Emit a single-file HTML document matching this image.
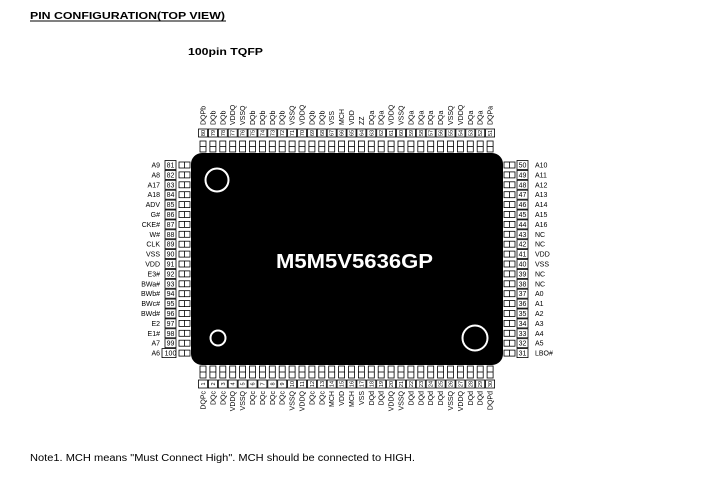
<!DOCTYPE html>
<html><head><meta charset="utf-8"><style>
body{margin:0;background:#fff;width:707px;height:476px;overflow:hidden;font-family:"Liberation Sans",Arial,sans-serif}
</style></head><body>
<svg id="s" width="707" height="476" xmlns="http://www.w3.org/2000/svg" font-family="Liberation Sans, Arial, sans-serif">
<text x="30" y="19" font-size="10.5" font-weight="bold" textLength="195" lengthAdjust="spacingAndGlyphs">PIN CONFIGURATION(TOP VIEW)</text>
<line x1="30" y1="21" x2="226" y2="21" stroke="#000" stroke-width="1"/>
<text x="188" y="55" font-size="10.5" font-weight="bold" textLength="75" lengthAdjust="spacingAndGlyphs">100pin TQFP</text>
<rect x="191" y="153" width="312" height="212" rx="11" fill="#000"/>
<circle cx="217" cy="180" r="11.5" fill="none" stroke="#fff" stroke-width="2"/>
<circle cx="218" cy="338" r="7.5" fill="none" stroke="#fff" stroke-width="2"/>
<circle cx="475" cy="338" r="12.5" fill="none" stroke="#fff" stroke-width="2"/>
<text x="276" y="268" font-size="20" font-weight="bold" fill="#fff" textLength="157" lengthAdjust="spacingAndGlyphs">M5M5V5636GP</text>
<text x="30" y="461" font-size="10" textLength="385" lengthAdjust="spacingAndGlyphs">Note1. MCH means "Must Connect High". MCH should be connected to HIGH.</text>
<g id="g"></g>
</svg>
<script>
var g=document.getElementById('g'),h='';
var top_=["DQPb","DQb","DQb","VDDQ","VSSQ","DQb","DQb","DQb","DQb","VSSQ","VDDQ","DQb","DQb","VSS","MCH","VDD","ZZ","DQa","DQa","VDDQ","VSSQ","DQa","DQa","DQa","DQa","VSSQ","VDDQ","DQa","DQa","DQPa"];
var bot=["DQPc","DQc","DQc","VDDQ","VSSQ","DQc","DQc","DQc","DQc","VSSQ","VDDQ","DQc","DQc","MCH","VDD","MCH","VSS","DQd","DQd","VDDQ","VSSQ","DQd","DQd","DQd","DQd","VSSQ","VDDQ","DQd","DQd","DQPd"];
var left=["A9","A8","A17","A18","ADV","G#","CKE#","W#","CLK","VSS","VDD","E3#","BWa#","BWb#","BWc#","BWd#","E2","E1#","A7","A6"];
var right=["A10","A11","A12","A13","A14","A15","A16","NC","NC","VDD","VSS","NC","NC","A0","A1","A2","A3","A4","A5","LBO#"];
var sp=9.9;
for(var i=0;i<30;i++){var x=203+i*sp;
 h+='<rect x="'+(x-3)+'" y="141" width="6" height="11" fill="#fff" stroke="#000" stroke-width="0.8"/><line x1="'+(x-3)+'" y1="146.5" x2="'+(x+3)+'" y2="146.5" stroke="#000" stroke-width="0.8"/>';
 h+='<rect x="'+(x-4.5)+'" y="129" width="9" height="8" fill="#fff" stroke="#000" stroke-width="0.8"/>';
 h+='<text font-size="5.5" text-anchor="middle" transform="translate('+(x+2)+',133) rotate(-90)">'+(80-i)+'</text>';
 h+='<text font-size="7" transform="translate('+(x+2.5)+',125) rotate(-90)">'+top_[i]+'</text>';
 h+='<rect x="'+(x-3)+'" y="366" width="6" height="12" fill="#fff" stroke="#000" stroke-width="0.8"/><line x1="'+(x-3)+'" y1="372" x2="'+(x+3)+'" y2="372" stroke="#000" stroke-width="0.8"/>';
 h+='<rect x="'+(x-4.5)+'" y="380" width="9" height="8" fill="#fff" stroke="#000" stroke-width="0.8"/>';
 h+='<text font-size="5.5" text-anchor="middle" transform="translate('+(x+2)+',384) rotate(-90)">'+(i+1)+'</text>';
 h+='<text font-size="7" text-anchor="end" transform="translate('+(x+2.5)+',391) rotate(-90)">'+bot[i]+'</text>';}
for(var i=0;i<20;i++){var y=165+i*sp;
 h+='<rect x="179" y="'+(y-3)+'" width="11" height="6" fill="#fff" stroke="#000" stroke-width="0.8"/><line x1="184.5" y1="'+(y-3)+'" x2="184.5" y2="'+(y+3)+'" stroke="#000" stroke-width="0.8"/>';
 h+='<rect x="'+(i==19?162:165)+'" y="'+(y-4.5)+'" width="'+(i==19?14:11)+'" height="9" fill="#fff" stroke="#000" stroke-width="0.8"/>';
 h+='<text x="170.5" y="'+(y+2.5)+'" font-size="7" text-anchor="middle">'+(81+i)+'</text>';
 h+='<text x="160" y="'+(y+2.5)+'" font-size="7" text-anchor="end">'+left[i]+'</text>';
 h+='<rect x="504" y="'+(y-3)+'" width="11" height="6" fill="#fff" stroke="#000" stroke-width="0.8"/><line x1="509.5" y1="'+(y-3)+'" x2="509.5" y2="'+(y+3)+'" stroke="#000" stroke-width="0.8"/>';
 h+='<rect x="517" y="'+(y-4.5)+'" width="11" height="9" fill="#fff" stroke="#000" stroke-width="0.8"/>';
 h+='<text x="522.5" y="'+(y+2.5)+'" font-size="7" text-anchor="middle">'+(50-i)+'</text>';
 h+='<text x="535" y="'+(y+2.5)+'" font-size="7">'+right[i]+'</text>';}
g.innerHTML=h;
</script>
</body></html>
